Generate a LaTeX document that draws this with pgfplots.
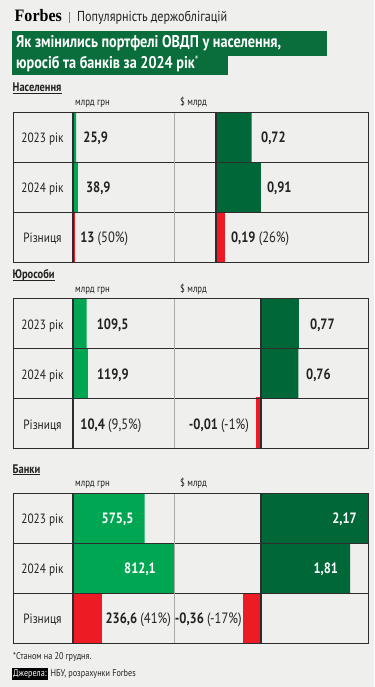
\documentclass[border=0pt]{standalone}
\usepackage{pgfplots}
\pgfplotsset{compat=1.18}
\usepackage{fontspec}
\setmainfont{PT Sans}[FakeStretch=0.84]
\newfontfamily\forbesfont{Liberation Serif}[FakeStretch=0.92]
\definecolor{bg}{RGB}{239,239,237}
\definecolor{lgreen}{RGB}{0,166,81}
\definecolor{dgreen}{RGB}{0,104,56}
\definecolor{tgreen}{RGB}{10,110,60}
\definecolor{bred}{RGB}{237,28,36}
\definecolor{ink}{RGB}{34,34,34}
\definecolor{gridc}{RGB}{45,45,45}
\definecolor{lgrid}{RGB}{170,170,170}
\pgfplotsset{
 tbl/.style={scale only axis, hide axis, height=150bp, ymin=0, ymax=3, y dir=reverse,
   enlargelimits=false, anchor=north west, xbar, bar width=1, bar shift=0pt, clip mode=individual},
 uah/.style={tbl, width=101bp, xmin=0, xmax=812.1},
 usd/.style={tbl, width=195bp},
}
\tikzset{
 val/.style={font=\fontsize{15}{15}\selectfont\bfseries, text=ink, inner sep=0pt, yshift=-5.5bp},
 wval/.style={val, text=white},
 rowlab/.style={anchor=base, inner sep=0, text=ink, font=\fontsize{13.5}{13.5}\selectfont},
 unit/.style={anchor=base west, inner sep=0, text=ink, font=\fontsize{10.5}{10.5}\selectfont},
}
\newcommand{\pct}[1]{{\mdseries #1}}
\begin{document}
\begin{tikzpicture}
\begin{scope}[x=1bp,y=-1bp]
\fill[bg] (0,0) rectangle (374,687);
% header
\node[anchor=base west, inner sep=0, text=black, font=\forbesfont\bfseries\fontsize{17.5}{17.5}\selectfont] at (14.5,22) {Forbes};
\draw[gray, line width=0.6bp] (69,12) -- (69,23);
\node[anchor=base west, inner sep=0, text=ink, font=\fontsize{14.5}{14.5}\selectfont] at (77,22) {Популярність держоблігацій};
% title
\fill[tgreen] (12,31) rectangle (327,56);
\fill[tgreen] (12,55.5) rectangle (228,75);
\node[anchor=base west, inner sep=0, text=white, font=\fontsize{17}{17}\selectfont\bfseries] at (16,47.5) {Як змінились портфелі ОВДП у населення,};
\node[anchor=base west, inner sep=0, text=white, font=\fontsize{17}{17}\selectfont\bfseries] at (16,68.5) {юросіб та банків за 2024 рік\raisebox{3.5bp}{\fontsize{12}{12}\selectfont\mdseries *}};
% section headings
\foreach \T/\name/\id in {112/Населення/h1, 298.5/Юрособи/h2, 493/Банки/h3}{
  \node[anchor=base west, inner sep=0, text=ink, font=\fontsize{12.5}{12.5}\selectfont\bfseries] (\id) at (12.5,\T-20) {\name};
  \draw[ink, line width=0.8bp] ([yshift=-1.6bp]\id.base west) -- ([yshift=-1.6bp]\id.base east);
  \node[unit] at (75,\T-6.5) {млрд грн};
  \node[unit] at (180,\T-6.5) {\$ млрд};
  \node[rowlab] at (42.5,\T+30.5) {2023 рік};
  \node[rowlab] at (42.5,\T+80.5) {2024 рік};
  \node[rowlab] at (42.5,\T+130.5) {Різниця};
}
% footer
\node[anchor=base west, inner sep=0, text=ink, font=\fontsize{9.8}{9.8}\selectfont] at (13,659) {*Станом на 20 грудня.};
\node[anchor=base west, fill=black, inner xsep=1bp, inner ysep=1.6bp, text=white, font=\fontsize{9.8}{9.8}\selectfont] at (12,676) {Джерела:};
\node[anchor=base west, inner sep=0, text=ink, font=\fontsize{9.8}{9.8}\selectfont] at (50.5,676) {НБУ, розрахунки Forbes};
\end{scope}

% ===== Населення =====
\begin{axis}[uah, at={(73bp,-112bp)}]
\addplot[fill=lgreen, draw=none] coordinates {(25.9,0.5) (38.9,1.5)};
\addplot[fill=bred, draw=none] coordinates {(13,2.5)};
\node[val, anchor=base west, xshift=7bp] at (axis cs:25.9,0.5) {25,9};
\node[val, anchor=base west, xshift=8bp] at (axis cs:38.9,1.5) {38,9};
\node[val, anchor=base west, xshift=5.5bp] at (axis cs:13,2.5) {13 \pct{(50\%)}};
\end{axis}
\begin{axis}[usd, at={(174bp,-112bp)}, xmin=-0.852, xmax=3.103]
\addplot[fill=dgreen, draw=none] coordinates {(0.72,0.5) (0.91,1.5)};
\addplot[fill=bred, draw=none] coordinates {(0.19,2.5)};
\node[val, anchor=base west, xshift=9.5bp] at (axis cs:0.72,0.5) {0,72};
\node[val, anchor=base west, xshift=6bp] at (axis cs:0.91,1.5) {0,91};
\node[val, anchor=base west, xshift=5.5bp] at (axis cs:0.19,2.5) {0,19 \pct{(26\%)}};
\end{axis}

% ===== Юрособи =====
\begin{axis}[uah, at={(73bp,-298.5bp)}]
\addplot[fill=lgreen, draw=none] coordinates {(109.5,0.5) (119.9,1.5)};
\addplot[fill=bred, draw=none] coordinates {(10.4,2.5)};
\node[val, anchor=base west, xshift=10bp] at (axis cs:109.5,0.5) {109,5};
\node[val, anchor=base west, xshift=9bp] at (axis cs:119.9,1.5) {119,9};
\node[val, anchor=base west, xshift=6bp] at (axis cs:10.4,2.5) {10,4 \pct{(9,5\%)}};
\end{axis}
\begin{axis}[usd, at={(174bp,-298.5bp)}, xmin=-1.765, xmax=2.191]
\addplot[fill=dgreen, draw=none] coordinates {(0.77,0.5) (0.76,1.5)};
\addplot[fill=bred, draw=bred, line width=4bp, xshift=-2.5bp] coordinates {(-0.01,2.5)};
\node[val, anchor=base west, xshift=11bp] at (axis cs:0.77,0.5) {0,77};
\node[val, anchor=base west, xshift=7.5bp] at (axis cs:0.76,1.5) {0,76};
\node[val, anchor=base east, xshift=-11.5bp] at (axis cs:-0.01,2.5) {-0,01 \pct{(-1\%)}};
\end{axis}

% ===== Банки =====
\begin{axis}[uah, at={(73bp,-493bp)}]
\addplot[fill=lgreen, draw=none] coordinates {(575.5,0.5) (812.1,1.5)};
\addplot[fill=bred, draw=none] coordinates {(236.6,2.5)};
\node[wval, anchor=base east, xshift=-11bp] at (axis cs:575.5,0.5) {575,5};
\node[wval, anchor=base east, xshift=-18bp] at (axis cs:812.1,1.5) {812,1};
\node[val, anchor=base west, xshift=3bp] at (axis cs:236.6,2.5) {236,6 \pct{(41\%)}};
\end{axis}
\begin{axis}[usd, at={(174bp,-493bp)}, xmin=-1.765, xmax=2.191]
\addplot[fill=dgreen, draw=none] coordinates {(2.17,0.5) (1.81,1.5)};
\addplot[fill=bred, draw=none] coordinates {(-0.36,2.5)};
\node[wval, anchor=base east, xshift=-11bp] at (axis cs:2.17,0.5) {2,17};
\node[wval, anchor=base east, xshift=-12bp] at (axis cs:1.81,1.5) {1,81};
\node[val, anchor=base east, xshift=-1.5bp] at (axis cs:-0.36,2.5) {-0,36 \pct{(-17\%)}};
\end{axis}

% table rules
\begin{scope}[x=1bp,y=-1bp]
\foreach \T/\Z in {112/216, 298.5/261, 493/261}{
  \draw[gridc, line width=0.9bp] (13,\T+50) -- (368.5,\T+50);
  \draw[gridc, line width=0.9bp] (13,\T+100) -- (368.5,\T+100);
  \draw[lgrid, line width=0.7bp] (174,\T) -- (174,\T+150);
  \draw[gridc, line width=1.4bp] (73,\T) -- (73,\T+150);
  \draw[gridc, line width=1.4bp] (\Z,\T) -- (\Z,\T+150);
  \draw[gridc, line width=0.9bp] (13,\T) rectangle (368.5,\T+150);
}
\pgfresetboundingbox
\path (0,0) rectangle (374,687);
\end{scope}
\end{tikzpicture}
\end{document}
